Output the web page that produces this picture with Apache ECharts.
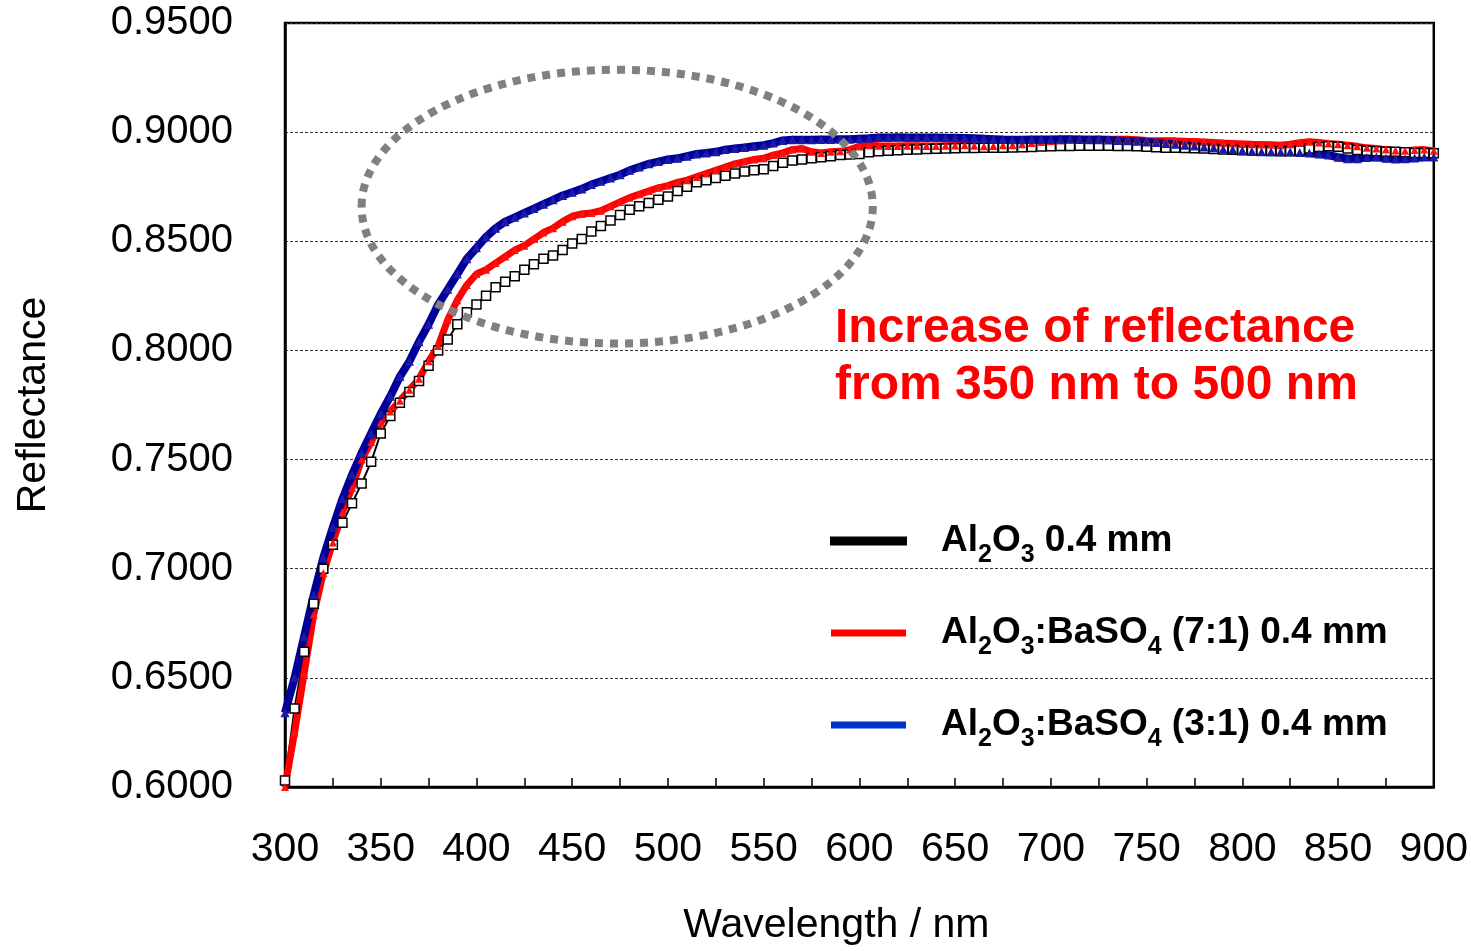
<!DOCTYPE html>
<html>
<head>
<meta charset="utf-8">
<script src="https://cdn.jsdelivr.net/npm/echarts@6/dist/echarts.min.js"></script>
<style>
  html, body { margin: 0; padding: 0; background: #fff; overflow: hidden; }
  #chart { width: 1471px; height: 951px; }
</style>
</head>
<body>
<div id="chart"></div>
<script>
// Diffuse reflectance spectra, sampled every 5 nm from 300 to 900 nm
const wlStart = 300, wlEnd = 900, wlStep = 5;
const wavelengths = [];
for (let w = wlStart; w <= wlEnd; w += wlStep) wavelengths.push(w);

const seriesNames = [
  'Al2O3 0.4 mm',
  'Al2O3:BaSO4 (7:1) 0.4 mm',
  'Al2O3:BaSO4 (3:1) 0.4 mm'
];

// Al2O3 0.4 mm
const al2o3 = [
  0.603, 0.636, 0.662, 0.684, 0.700, 0.711, 0.721, 0.730, 0.739, 0.749,
  0.762, 0.770, 0.776, 0.781, 0.786, 0.793, 0.800, 0.805, 0.812, 0.8175,
  0.821, 0.825, 0.829, 0.8315, 0.834, 0.837, 0.8395, 0.842, 0.8435, 0.846,
  0.849, 0.851, 0.8545, 0.857, 0.8595, 0.862, 0.8645, 0.866, 0.8675, 0.869,
  0.8705, 0.873, 0.875, 0.877, 0.878, 0.879, 0.880, 0.881, 0.882, 0.8825,
  0.883, 0.8845, 0.886, 0.887, 0.8875, 0.888, 0.8885, 0.889, 0.8895, 0.8898,
  0.890,
  0.8908, 0.8912, 0.8915, 0.8917, 0.8919, 0.8921, 0.8923, 0.8924, 0.8925, 0.8926,
  0.8927, 0.8927, 0.8928, 0.8928, 0.8929, 0.893, 0.8931, 0.8932, 0.8934, 0.8935,
  0.8936, 0.8937, 0.8938, 0.8938, 0.8938, 0.8938, 0.8937, 0.8936, 0.8935, 0.8933,
  0.8931, 0.8929, 0.8928, 0.8927, 0.8926, 0.8925, 0.8923, 0.8921, 0.8919, 0.8917,
  0.8916, 0.8915, 0.8914, 0.8913, 0.8913, 0.8916, 0.8925, 0.8932, 0.8935, 0.8933,
  0.8925, 0.8918, 0.8915, 0.8912, 0.891, 0.891, 0.8908, 0.8905, 0.8905, 0.8903
];

// Al2O3:BaSO4 (7:1) 0.4 mm
const mix71 = [
  0.600, 0.625, 0.652, 0.679, 0.698, 0.712, 0.726, 0.737, 0.750, 0.758,
  0.767, 0.772, 0.777, 0.782, 0.787, 0.795, 0.802, 0.814, 0.823, 0.830,
  0.835, 0.837, 0.840, 0.843, 0.846, 0.848, 0.851, 0.854, 0.856, 0.859,
  0.8615, 0.8625, 0.863, 0.864, 0.866, 0.868, 0.870, 0.8715, 0.873, 0.8745,
  0.8755, 0.877, 0.878, 0.8795, 0.881, 0.8825, 0.884, 0.8855, 0.8865, 0.8875,
  0.888, 0.8895, 0.8905, 0.892, 0.8925, 0.891, 0.8905, 0.891, 0.8912, 0.892,
  0.8935,
  0.894, 0.8938, 0.8937, 0.8937, 0.8938, 0.8938, 0.8937, 0.8937, 0.8938, 0.8939,
  0.894, 0.8938, 0.8935, 0.8936, 0.894, 0.894, 0.8945, 0.895, 0.8955, 0.8958,
  0.8962, 0.8966, 0.8968, 0.8968, 0.8969, 0.8968, 0.8968, 0.8968, 0.8965, 0.8962,
  0.896, 0.896, 0.896, 0.8958, 0.8957, 0.8955, 0.8953, 0.895, 0.8948, 0.8946,
  0.8944, 0.8943, 0.8942, 0.894, 0.8945, 0.8952, 0.8956, 0.8953, 0.8948, 0.8945,
  0.894, 0.8935, 0.8928, 0.8925, 0.892, 0.8916, 0.8915, 0.8918, 0.892, 0.8915
];

// Al2O3:BaSO4 (3:1) 0.4 mm
const mix31 = [
  0.634, 0.650, 0.669, 0.688, 0.705, 0.719, 0.732, 0.743, 0.753, 0.762,
  0.771, 0.779, 0.788, 0.795, 0.804, 0.812, 0.821, 0.828, 0.835, 0.842,
  0.847, 0.852, 0.856, 0.859, 0.861, 0.863, 0.865, 0.867, 0.869, 0.871,
  0.8725, 0.874, 0.876, 0.8775, 0.879, 0.8805, 0.8825, 0.884, 0.8855, 0.8865,
  0.8875, 0.888, 0.889, 0.890, 0.8905, 0.891, 0.892, 0.8925, 0.893, 0.8935,
  0.894, 0.895, 0.8962, 0.8965, 0.8965, 0.8965, 0.8966, 0.8966, 0.8968, 0.8968,
  0.897,
  0.8972, 0.8975, 0.8976, 0.8977, 0.8976, 0.8976, 0.8975, 0.8975, 0.8974, 0.8974,
  0.8973, 0.8972, 0.897, 0.8968, 0.8966, 0.8965, 0.8965, 0.8966, 0.8966, 0.8966,
  0.8967, 0.8967, 0.8966, 0.8965, 0.8965, 0.8964, 0.8962, 0.896, 0.8958, 0.8955,
  0.8953, 0.8948, 0.8944, 0.894, 0.8936, 0.8932, 0.8928, 0.8923, 0.892, 0.8916,
  0.8912, 0.891, 0.891, 0.891, 0.891, 0.8907, 0.8904, 0.890, 0.8895, 0.8885,
  0.8878, 0.8878, 0.8884, 0.8886, 0.888, 0.8877, 0.8878, 0.8882, 0.8886, 0.8886
];

const noteLines = ['Increase of reflectance', 'from 350 nm to 500 nm'];

// Highlighted region (data coordinates): centre and half-axes
const regionCenter = [473.5, 0.8659];
const regionHalf = [133.5, 0.0627];

const FONT = '"Liberation Sans", Arial, Helvetica, sans-serif';

function pairs(arr) { return wavelengths.map((w, i) => [w, arr[i]]); }

// Al2O3 -> Al{s|2}O{s|3} style subscripts for legend labels
function richName(name) {
  return '{m|' + name.replace(/([A-Za-z])(\d)/g, '$1}{s|$2}{m|') + '}';
}

const chart = echarts.init(document.getElementById('chart'), null,
  { renderer: 'canvas', width: 1471, height: 951 });

const option = {
  animation: false,
  backgroundColor: '#fff',
  textStyle: { fontFamily: FONT },
  grid: {
    left: 285, top: 23, width: 1152, height: 770,
    show: true, borderColor: '#000', borderWidth: 2.5, backgroundColor: 'transparent'
  },
  xAxis: {
    type: 'value', min: 300, max: 900, interval: 50,
    name: 'Wavelength / nm', nameLocation: 'middle', nameGap: 118,
    nameTextStyle: { fontSize: 41, color: '#000', fontFamily: FONT, padding: [0, 46, 0, 0] },
    axisLine: { show: true, lineStyle: { color: '#000', width: 2.5 } },
    axisTick: { show: true, inside: true, length: 9, lineStyle: { color: '#000', width: 1.5 } },
    minorTick: { show: true, splitNumber: 2, length: 9, lineStyle: { color: '#000', width: 1.5 } },
    axisLabel: { fontSize: 41, color: '#000', margin: 42, fontFamily: FONT },
    splitLine: { show: false }
  },
  yAxis: {
    type: 'value', min: 0.6, max: 0.95, interval: 0.05,
    name: 'Reflectance', nameLocation: 'middle', nameGap: 231, nameRotate: 90,
    nameTextStyle: { fontSize: 41, color: '#000', fontFamily: FONT },
    axisLine: { show: true, lineStyle: { color: '#000', width: 2.5 } },
    axisTick: { show: false },
    axisLabel: { fontSize: 40, color: '#000', margin: 52, fontFamily: FONT,
      formatter: v => v.toFixed(4) },
    splitLine: { show: true, lineStyle: { color: '#333', width: 1, type: [3, 2] } }
  },
  legend: {
    orient: 'vertical', left: 830, top: 522, padding: 0,
    itemWidth: 75, itemHeight: 7, itemGap: 46, icon: 'rect',
    data: [
      { name: seriesNames[0], itemStyle: { color: '#000' } },
      { name: seriesNames[1], itemStyle: { color: '#ff0000' } },
      { name: seriesNames[2], itemStyle: { color: '#0033cc' } }
    ],
    formatter: richName,
    textStyle: {
      padding: [8, 0, 0, 30],
      rich: {
        m: { fontSize: 37, fontWeight: 'bold', color: '#000', fontFamily: FONT,
             lineHeight: 46, verticalAlign: 'top' },
        s: { fontSize: 25, fontWeight: 'bold', color: '#000', fontFamily: FONT,
             lineHeight: 25, verticalAlign: 'bottom' }
      }
    }
  },
  series: [
    {
      name: seriesNames[0], type: 'line', data: pairs(al2o3),
      symbol: 'rect', symbolSize: 9, showSymbol: true,
      lineStyle: { color: '#000', width: 2 },
      itemStyle: { color: '#fff', borderColor: '#000', borderWidth: 1.5 },
      emphasis: { disabled: true }
    },
    {
      name: seriesNames[1], type: 'line', data: pairs(mix71),
      symbol: 'triangle', symbolSize: 8, showSymbol: true,
      lineStyle: { color: '#ff0000', width: 7 },
      itemStyle: { color: '#ff1010' },
      emphasis: { disabled: true }
    },
    {
      name: seriesNames[2], type: 'line', data: pairs(mix31),
      symbol: 'triangle', symbolSize: 9, showSymbol: true,
      lineStyle: { color: '#000099', width: 8 },
      itemStyle: { color: '#1a1aa6' },
      emphasis: { disabled: true }
    }
  ]
};

chart.setOption(option);

// Dotted ellipse and note placed from data coordinates
const c = chart.convertToPixel({ gridIndex: 0 }, regionCenter);
const e = chart.convertToPixel({ gridIndex: 0 },
  [regionCenter[0] + regionHalf[0], regionCenter[1] + regionHalf[1]]);

chart.setOption({
  graphic: [
    {
      type: 'ellipse', z: 100,
      shape: { cx: c[0], cy: c[1], rx: Math.abs(e[0] - c[0]), ry: Math.abs(c[1] - e[1]) },
      style: { fill: 'none', stroke: '#808080', lineWidth: 8, lineDash: [8, 7] },
      silent: true
    },
    {
      type: 'text', z: 100, left: 835, top: 300,
      style: {
        text: noteLines.join('\n'),
        font: 'bold 48px ' + FONT,
        fill: '#ff0000',
        lineHeight: 57
      },
      silent: true
    }
  ]
});
</script>
</body>
</html>
